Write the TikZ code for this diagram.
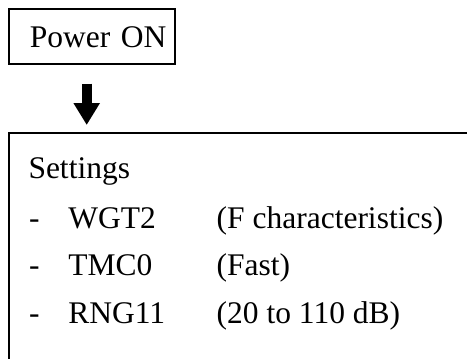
\documentclass[tikz,border=0pt]{standalone}
\usepackage{fontspec}
\setmainfont{Liberation Serif}
\usetikzlibrary{arrows.meta}
\tikzset{
  frame/.style={draw=black, line width=2pt, inner sep=0pt},
  txt/.style={anchor=base west, inner sep=0pt, font=\fontsize{31.5}{36}\selectfont},
  blockarrow/.style={line width=10pt, -{Triangle[length=22pt,width=25pt]}}
}
\begin{document}
\begin{tikzpicture}[x=1pt,y=-1pt]
\useasboundingbox (0,0) rectangle (467,359);
\clip (0,0) rectangle (467,359);
% start box
\node[frame, anchor=north west, inner xsep=0pt, text width=166pt,
      minimum height=54.2pt, text height=22.6pt, text depth=0pt, align=left,
      font=\fontsize{31.5}{36}\selectfont] (pw) at (8.3,8.3) {\hspace*{20.5pt}Power ON};
% settings frame, running past the right and bottom edges
\node[frame, anchor=north west, minimum width=520pt, minimum height=300pt] (set) at (8.3,132) {};
% block arrow between the two boxes
\coordinate (ax) at (86.7,0);
\draw[blockarrow, shorten <=19.2pt, shorten >=7pt] (pw.south -| ax) -- (set.north -| ax);
% settings text
\node[txt] (title) at (28.3,178.3) {Settings};
\node[txt] (d1) at (28.8,228.3) {-};
\node[txt] (k1) at (68.2,228.3) {WGT2};
\node[txt] (v1) at (216.5,228.3) {(F characteristics)};
\node[txt] (d2) at (28.8,275) {-};
\node[txt] (k2) at (68.2,275) {TMC0};
\node[txt] (v2) at (216.5,275) {(Fast)};
\node[txt] (d3) at (28.8,323.3) {-};
\node[txt] (k3) at (68.2,323.3) {RNG11};
\node[txt] (v3) at (216.5,323.3) {(20 to 110 dB)};
\end{tikzpicture}
\end{document}
